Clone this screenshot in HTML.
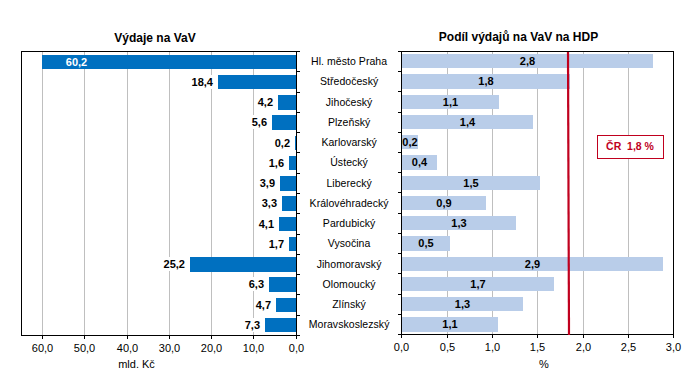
<!DOCTYPE html><html><head><meta charset="utf-8"><style>html,body{margin:0;padding:0;background:#fff;}body{width:689px;height:375px;overflow:hidden;}svg{display:block;}text{font-family:"Liberation Sans",sans-serif;}</style></head><body>
<svg width="689" height="375" viewBox="0 0 689 375">
<rect x="0" y="0" width="689" height="375" fill="#fff"/>
<text x="155" y="42" font-size="12" font-weight="bold" text-anchor="middle" fill="#000">Výdaje na VaV</text>
<text x="518.5" y="41" font-size="12" font-weight="bold" text-anchor="middle" fill="#000">Podíl výdajů na VaV na HDP</text>
<rect x="253" y="52" width="1" height="283" fill="#BFBFBF"/>
<rect x="211" y="52" width="1" height="283" fill="#BFBFBF"/>
<rect x="169" y="52" width="1" height="283" fill="#BFBFBF"/>
<rect x="127" y="52" width="1" height="283" fill="#BFBFBF"/>
<rect x="84" y="52" width="1" height="283" fill="#BFBFBF"/>
<rect x="42" y="52" width="1" height="283" fill="#BFBFBF"/>
<rect x="447" y="52" width="1" height="282" fill="#BFBFBF"/>
<rect x="492" y="52" width="1" height="282" fill="#BFBFBF"/>
<rect x="537" y="52" width="1" height="282" fill="#BFBFBF"/>
<rect x="583" y="52" width="1" height="282" fill="#BFBFBF"/>
<rect x="628" y="52" width="1" height="282" fill="#BFBFBF"/>
<rect x="42" y="55" width="254" height="14" fill="#0070C0"/>
<rect x="218" y="75" width="78" height="14" fill="#0070C0"/>
<rect x="278" y="95" width="18" height="15" fill="#0070C0"/>
<rect x="272" y="115" width="24" height="15" fill="#0070C0"/>
<rect x="295" y="136" width="1" height="14" fill="#0070C0"/>
<rect x="289" y="156" width="7" height="14" fill="#0070C0"/>
<rect x="280" y="176" width="16" height="15" fill="#0070C0"/>
<rect x="282" y="196" width="14" height="15" fill="#0070C0"/>
<rect x="279" y="217" width="17" height="14" fill="#0070C0"/>
<rect x="289" y="237" width="7" height="14" fill="#0070C0"/>
<rect x="190" y="257" width="106" height="15" fill="#0070C0"/>
<rect x="269" y="277" width="27" height="15" fill="#0070C0"/>
<rect x="276" y="298" width="20" height="14" fill="#0070C0"/>
<rect x="265" y="318" width="31" height="14" fill="#0070C0"/>
<rect x="402" y="54" width="251" height="14" fill="#B9CDE9"/>
<rect x="402" y="74" width="168" height="15" fill="#B9CDE9"/>
<rect x="402" y="95" width="97" height="14" fill="#B9CDE9"/>
<rect x="402" y="115" width="131" height="14" fill="#B9CDE9"/>
<rect x="402" y="135" width="16" height="14" fill="#B9CDE9"/>
<rect x="402" y="155" width="35" height="15" fill="#B9CDE9"/>
<rect x="402" y="176" width="138" height="14" fill="#B9CDE9"/>
<rect x="402" y="196" width="84" height="14" fill="#B9CDE9"/>
<rect x="402" y="216" width="114" height="14" fill="#B9CDE9"/>
<rect x="402" y="236" width="48" height="15" fill="#B9CDE9"/>
<rect x="402" y="257" width="261" height="14" fill="#B9CDE9"/>
<rect x="402" y="277" width="152" height="14" fill="#B9CDE9"/>
<rect x="402" y="297" width="121" height="14" fill="#B9CDE9"/>
<rect x="402" y="317" width="96" height="15" fill="#B9CDE9"/>
<rect x="21" y="51" width="276" height="1" fill="#000"/>
<rect x="21" y="335" width="276" height="1" fill="#000"/>
<rect x="21" y="51" width="1" height="285" fill="#000"/>
<rect x="296" y="51" width="1" height="285" fill="#000"/>
<rect x="297" y="51" width="3" height="1" fill="#000"/>
<rect x="297" y="71" width="3" height="1" fill="#000"/>
<rect x="297" y="92" width="3" height="1" fill="#000"/>
<rect x="297" y="112" width="3" height="1" fill="#000"/>
<rect x="297" y="132" width="3" height="1" fill="#000"/>
<rect x="297" y="152" width="3" height="1" fill="#000"/>
<rect x="297" y="173" width="3" height="1" fill="#000"/>
<rect x="297" y="193" width="3" height="1" fill="#000"/>
<rect x="297" y="213" width="3" height="1" fill="#000"/>
<rect x="297" y="234" width="3" height="1" fill="#000"/>
<rect x="297" y="254" width="3" height="1" fill="#000"/>
<rect x="297" y="274" width="3" height="1" fill="#000"/>
<rect x="297" y="294" width="3" height="1" fill="#000"/>
<rect x="297" y="315" width="3" height="1" fill="#000"/>
<rect x="297" y="335" width="3" height="1" fill="#000"/>
<rect x="296" y="336" width="1" height="3" fill="#000"/>
<rect x="253" y="336" width="1" height="3" fill="#000"/>
<rect x="211" y="336" width="1" height="3" fill="#000"/>
<rect x="169" y="336" width="1" height="3" fill="#000"/>
<rect x="127" y="336" width="1" height="3" fill="#000"/>
<rect x="84" y="336" width="1" height="3" fill="#000"/>
<rect x="42" y="336" width="1" height="3" fill="#000"/>
<rect x="401" y="51" width="273" height="1" fill="#000"/>
<rect x="401" y="334" width="273" height="1" fill="#000"/>
<rect x="401" y="51" width="1" height="284" fill="#000"/>
<rect x="673" y="51" width="1" height="284" fill="#000"/>
<rect x="398" y="51" width="3" height="1" fill="#000"/>
<rect x="398" y="71" width="3" height="1" fill="#000"/>
<rect x="398" y="91" width="3" height="1" fill="#000"/>
<rect x="398" y="112" width="3" height="1" fill="#000"/>
<rect x="398" y="132" width="3" height="1" fill="#000"/>
<rect x="398" y="152" width="3" height="1" fill="#000"/>
<rect x="398" y="172" width="3" height="1" fill="#000"/>
<rect x="398" y="192" width="3" height="1" fill="#000"/>
<rect x="398" y="213" width="3" height="1" fill="#000"/>
<rect x="398" y="233" width="3" height="1" fill="#000"/>
<rect x="398" y="253" width="3" height="1" fill="#000"/>
<rect x="398" y="273" width="3" height="1" fill="#000"/>
<rect x="398" y="294" width="3" height="1" fill="#000"/>
<rect x="398" y="314" width="3" height="1" fill="#000"/>
<rect x="398" y="334" width="3" height="1" fill="#000"/>
<rect x="401" y="335" width="1" height="3" fill="#000"/>
<rect x="447" y="335" width="1" height="3" fill="#000"/>
<rect x="492" y="335" width="1" height="3" fill="#000"/>
<rect x="537" y="335" width="1" height="3" fill="#000"/>
<rect x="583" y="335" width="1" height="3" fill="#000"/>
<rect x="628" y="335" width="1" height="3" fill="#000"/>
<rect x="673" y="335" width="1" height="3" fill="#000"/>
<line x1="568" y1="52" x2="569" y2="335" stroke="#C0001E" stroke-width="2.2"/>
<rect x="597.5" y="135.5" width="66" height="23" fill="#fff" stroke="#C0001E" stroke-width="1"/>
<text x="630" y="150" font-size="10.5" font-weight="bold" text-anchor="middle" fill="#C0001E" xml:space="preserve">ČR  1,8 %</text>
<text x="349.1" y="65" font-size="10.5" letter-spacing="0.05" text-anchor="middle" fill="#000">Hl. město Praha</text>
<text x="349.1" y="85" font-size="10.5" letter-spacing="0.05" text-anchor="middle" fill="#000">Středočeský</text>
<text x="349.1" y="106" font-size="10.5" letter-spacing="0.05" text-anchor="middle" fill="#000">Jihočeský</text>
<text x="349.1" y="126" font-size="10.5" letter-spacing="0.05" text-anchor="middle" fill="#000">Plzeňský</text>
<text x="349.1" y="146" font-size="10.5" letter-spacing="0.05" text-anchor="middle" fill="#000">Karlovarský</text>
<text x="349.1" y="166" font-size="10.5" letter-spacing="0.05" text-anchor="middle" fill="#000">Ústecký</text>
<text x="349.1" y="187" font-size="10.5" letter-spacing="0.05" text-anchor="middle" fill="#000">Liberecký</text>
<text x="349.1" y="207" font-size="10.5" letter-spacing="0.05" text-anchor="middle" fill="#000">Královéhradecký</text>
<text x="349.1" y="227" font-size="10.5" letter-spacing="0.05" text-anchor="middle" fill="#000">Pardubický</text>
<text x="349.1" y="247" font-size="10.5" letter-spacing="0.05" text-anchor="middle" fill="#000">Vysočina</text>
<text x="349.1" y="268" font-size="10.5" letter-spacing="0.05" text-anchor="middle" fill="#000">Jihomoravský</text>
<text x="349.1" y="288" font-size="10.5" letter-spacing="0.05" text-anchor="middle" fill="#000">Olomoucký</text>
<text x="349.1" y="308" font-size="10.5" letter-spacing="0.05" text-anchor="middle" fill="#000">Zlínský</text>
<text x="349.1" y="328" font-size="10.5" letter-spacing="0.05" text-anchor="middle" fill="#000">Moravskoslezský</text>
<text x="76.5" y="66" font-size="11" font-weight="bold" text-anchor="middle" fill="#fff">60,2</text>
<rect x="191.1" y="75" width="22.4" height="14" fill="#fff"/>
<text x="213" y="86" font-size="11" font-weight="bold" text-anchor="end" fill="#000">18,4</text>
<rect x="257.2" y="95" width="16.3" height="14" fill="#fff"/>
<text x="273" y="106" font-size="11" font-weight="bold" text-anchor="end" fill="#000">4,2</text>
<rect x="251.2" y="115" width="16.3" height="14" fill="#fff"/>
<text x="267" y="126" font-size="11" font-weight="bold" text-anchor="end" fill="#000">5,6</text>
<rect x="274.2" y="136" width="16.3" height="14" fill="#fff"/>
<text x="290" y="147" font-size="11" font-weight="bold" text-anchor="end" fill="#000">0,2</text>
<rect x="268.2" y="156" width="16.3" height="14" fill="#fff"/>
<text x="284" y="167" font-size="11" font-weight="bold" text-anchor="end" fill="#000">1,6</text>
<rect x="259.2" y="176" width="16.3" height="14" fill="#fff"/>
<text x="275" y="187" font-size="11" font-weight="bold" text-anchor="end" fill="#000">3,9</text>
<rect x="261.2" y="196" width="16.3" height="14" fill="#fff"/>
<text x="277" y="207" font-size="11" font-weight="bold" text-anchor="end" fill="#000">3,3</text>
<rect x="258.2" y="217" width="16.3" height="14" fill="#fff"/>
<text x="274" y="228" font-size="11" font-weight="bold" text-anchor="end" fill="#000">4,1</text>
<rect x="268.2" y="237" width="16.3" height="14" fill="#fff"/>
<text x="284" y="248" font-size="11" font-weight="bold" text-anchor="end" fill="#000">1,7</text>
<rect x="163.1" y="257" width="22.4" height="14" fill="#fff"/>
<text x="185" y="268" font-size="11" font-weight="bold" text-anchor="end" fill="#000">25,2</text>
<rect x="248.2" y="277" width="16.3" height="14" fill="#fff"/>
<text x="264" y="288" font-size="11" font-weight="bold" text-anchor="end" fill="#000">6,3</text>
<rect x="255.2" y="298" width="16.3" height="14" fill="#fff"/>
<text x="271" y="309" font-size="11" font-weight="bold" text-anchor="end" fill="#000">4,7</text>
<rect x="244.2" y="318" width="16.3" height="14" fill="#fff"/>
<text x="260" y="329" font-size="11" font-weight="bold" text-anchor="end" fill="#000">7,3</text>
<text x="527.5" y="65" font-size="11" font-weight="bold" text-anchor="middle" fill="#000">2,8</text>
<text x="486.0" y="85" font-size="11" font-weight="bold" text-anchor="middle" fill="#000">1,8</text>
<text x="450.5" y="106" font-size="11" font-weight="bold" text-anchor="middle" fill="#000">1,1</text>
<text x="467.5" y="126" font-size="11" font-weight="bold" text-anchor="middle" fill="#000">1,4</text>
<text x="410.0" y="146" font-size="11" font-weight="bold" text-anchor="middle" fill="#000">0,2</text>
<text x="419.5" y="166" font-size="11" font-weight="bold" text-anchor="middle" fill="#000">0,4</text>
<text x="471.0" y="187" font-size="11" font-weight="bold" text-anchor="middle" fill="#000">1,5</text>
<text x="444.0" y="207" font-size="11" font-weight="bold" text-anchor="middle" fill="#000">0,9</text>
<text x="459.0" y="227" font-size="11" font-weight="bold" text-anchor="middle" fill="#000">1,3</text>
<text x="426.0" y="247" font-size="11" font-weight="bold" text-anchor="middle" fill="#000">0,5</text>
<text x="532.5" y="268" font-size="11" font-weight="bold" text-anchor="middle" fill="#000">2,9</text>
<text x="478.0" y="288" font-size="11" font-weight="bold" text-anchor="middle" fill="#000">1,7</text>
<text x="462.5" y="308" font-size="11" font-weight="bold" text-anchor="middle" fill="#000">1,3</text>
<text x="450.0" y="328" font-size="11" font-weight="bold" text-anchor="middle" fill="#000">1,1</text>
<text x="296.5" y="352" font-size="11" text-anchor="middle" fill="#000">0,0</text>
<text x="253.5" y="352" font-size="11" text-anchor="middle" fill="#000">10,0</text>
<text x="211.5" y="352" font-size="11" text-anchor="middle" fill="#000">20,0</text>
<text x="169.5" y="352" font-size="11" text-anchor="middle" fill="#000">30,0</text>
<text x="127.5" y="352" font-size="11" text-anchor="middle" fill="#000">40,0</text>
<text x="84.5" y="352" font-size="11" text-anchor="middle" fill="#000">50,0</text>
<text x="42.5" y="352" font-size="11" text-anchor="middle" fill="#000">60,0</text>
<text x="401.5" y="351" font-size="11" text-anchor="middle" fill="#000">0,0</text>
<text x="447.5" y="351" font-size="11" text-anchor="middle" fill="#000">0,5</text>
<text x="492.5" y="351" font-size="11" text-anchor="middle" fill="#000">1,0</text>
<text x="537.5" y="351" font-size="11" text-anchor="middle" fill="#000">1,5</text>
<text x="583.5" y="351" font-size="11" text-anchor="middle" fill="#000">2,0</text>
<text x="628.5" y="351" font-size="11" text-anchor="middle" fill="#000">2,5</text>
<text x="673.5" y="351" font-size="11" text-anchor="middle" fill="#000">3,0</text>
<text x="136.5" y="367.5" font-size="11" text-anchor="middle" fill="#000">mld. Kč</text>
<text x="544" y="367.5" font-size="11" text-anchor="middle" fill="#000">%</text>
</svg></body></html>
